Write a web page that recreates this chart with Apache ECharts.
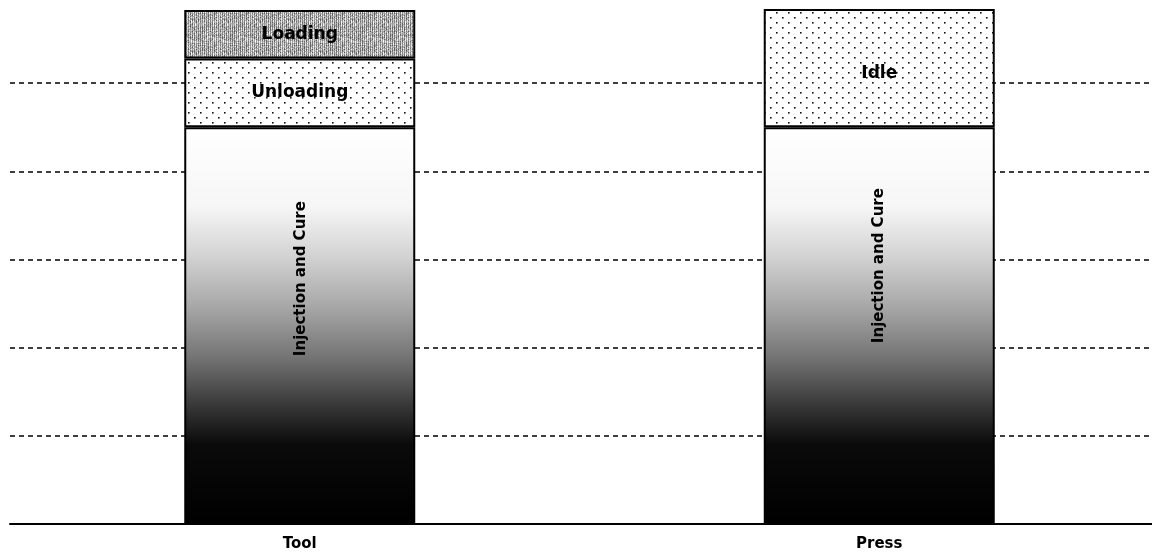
<!DOCTYPE html>
<html>
<head>
<meta charset="utf-8">
<script src="https://cdn.jsdelivr.net/npm/echarts@6/dist/echarts.min.js"></script>
<style>
  html, body { margin: 0; padding: 0; background: #fff; overflow: hidden; }
  #wrap { width: 1152px; height: 557px; overflow: hidden; position: relative; }
  /* the plot runs a little past the top and right edges of the page */
  #chart { position: absolute; left: 0; top: -5px; width: 1169px; height: 562px; }
</style>
</head>
<body>
<div id="wrap"><div id="chart"></div></div>
<script>
// Time per activity, stacked for each resource
const categories = ['Tool', 'Press'];
const injectionCure = [4.5, 4.5];
const unloading = [0.78, '-'];
const idle = ['-', 1.34];
const loading = [0.55, '-'];

// Dotted fill used for Unloading / Idle
function dotPattern() {
  const c = document.createElement('canvas');
  c.width = 12; c.height = 10;
  const g = c.getContext('2d');
  g.fillStyle = '#fff';
  g.fillRect(0, 0, 12, 10);
  g.fillStyle = '#111';
  g.fillRect(2, 2, 1.6, 1.6);
  g.fillRect(8, 7, 1.6, 1.6);
  return c;
}

// Grainy grey fill with vertical striping used for Loading
function greyPattern() {
  const w = 32, h = 32;
  const c = document.createElement('canvas');
  c.width = w; c.height = h;
  const g = c.getContext('2d');
  for (let y = 0; y < h; y++) {
    for (let x = 0; x < w; x++) {
      const hsh = ((x * 73856093) ^ (y * 19349663) ^ ((x + y) * 83492791)) >>> 0;
      const jitter = (hsh % 90) - 40;
      const base = (x % 2 === 0) ? 125 : 205;
      const v = Math.max(0, Math.min(255, base + jitter));
      g.fillStyle = 'rgb(' + v + ',' + v + ',' + v + ')';
      g.fillRect(x, y, 1, 1);
    }
  }
  return c;
}

const chart = echarts.init(document.getElementById('chart'));

const segLabel = {
  show: true,
  position: 'inside',
  color: '#000',
  fontFamily: 'DejaVu Sans',
  fontWeight: 'bold',
  fontSize: 17
};

const border = { borderColor: '#000', borderWidth: 2 };

chart.setOption({
  animation: false,
  backgroundColor: '#fff',
  grid: { left: 10, right: 0, top: 0, bottom: 33 },
  xAxis: {
    type: 'category',
    data: categories,
    axisLine: { show: true, lineStyle: { color: '#000', width: 2 } },
    axisTick: { show: false },
    axisLabel: {
      color: '#000',
      fontFamily: 'DejaVu Sans',
      fontWeight: 'bold',
      fontSize: 15,
      margin: 13
    }
  },
  yAxis: {
    type: 'value',
    min: 0,
    max: 6,
    interval: 1,
    axisLine: { show: false },
    axisTick: { show: false },
    axisLabel: { show: false },
    splitLine: {
      show: true,
      lineStyle: { color: '#000', width: 1.5, type: [5, 4] }
    }
  },
  series: [
    {
      name: 'Injection and Cure',
      type: 'bar',
      stack: 'time',
      barWidth: 231,
      data: [
        { value: injectionCure[0], label: { offset: [47, 1] } },
        { value: injectionCure[1], label: { offset: [60, 0] } }
      ],
      itemStyle: Object.assign({
        color: {
          type: 'linear', x: 0, y: 0, x2: 0, y2: 1,
          colorStops: [
            { offset: 0, color: '#ffffff' },
            { offset: 0.2, color: '#f6f6f6' },
            { offset: 0.32, color: '#d4d4d4' },
            { offset: 0.45, color: '#a8a8a8' },
            { offset: 0.58, color: '#747474' },
            { offset: 0.7, color: '#383838' },
            { offset: 0.8, color: '#0a0a0a' },
            { offset: 1, color: '#000000' }
          ]
        }
      }, border),
      label: Object.assign({}, segLabel, {
        formatter: 'Injection and Cure',
        rotate: 90,
        fontSize: 15
      })
    },
    {
      name: 'Unloading',
      type: 'bar',
      stack: 'time',
      data: unloading,
      itemStyle: Object.assign({ color: { image: dotPattern(), repeat: 'repeat' } }, border),
      label: Object.assign({}, segLabel, { formatter: 'Unloading' })
    },
    {
      name: 'Idle',
      type: 'bar',
      stack: 'time',
      data: idle,
      itemStyle: Object.assign({ color: { image: dotPattern(), repeat: 'repeat' } }, border),
      label: Object.assign({}, segLabel, { formatter: 'Idle', offset: [0, 5] })
    },
    {
      name: 'Loading',
      type: 'bar',
      stack: 'time',
      data: loading,
      itemStyle: Object.assign({ color: { image: greyPattern(), repeat: 'repeat' } }, border),
      label: Object.assign({}, segLabel, { formatter: 'Loading' })
    }
  ]
});
</script>
</body>
</html>
